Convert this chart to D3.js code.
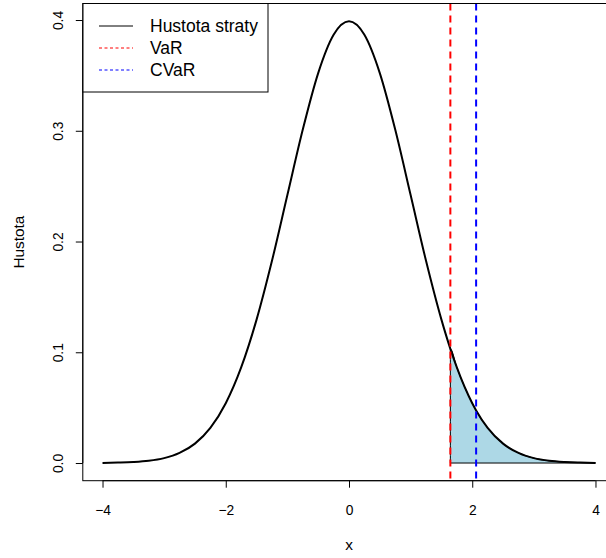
<!DOCTYPE html>
<html><head><meta charset="utf-8">
<script src="https://cdn.jsdelivr.net/npm/d3@7"></script>
<style>body{margin:0;background:#fff}svg{display:block;font-family:"Liberation Sans",Arial,sans-serif}</style>
</head><body>
<script>
// Data
const xs = [-4,-3.75,-3.5,-3.25,-3,-2.75,-2.5,-2.25,-2,-1.75,-1.5,-1.25,-1,-0.75,-0.5,-0.25,0,0.25,0.5,0.75,1,1.25,1.5,1.645,1.75,2,2.063,2.25,2.5,2.75,3,3.25,3.5,3.75,4];
const dens = [0.0001,0.0004,0.0009,0.0020,0.0044,0.0091,0.0175,0.0317,0.0540,0.0863,0.1295,0.1826,0.2420,0.3011,0.3521,0.3867,0.3989,0.3867,0.3521,0.3011,0.2420,0.1826,0.1295,0.1031,0.0863,0.0540,0.0475,0.0317,0.0175,0.0091,0.0044,0.0020,0.0009,0.0004,0.0001];
const VaR = 1.645;
const CVaR = 2.063;
const xTicks = [-4,-2,0,2,4];
const yTicks = [0,0.1,0.2,0.3,0.4];
const legendLabels = ["Hustota straty","VaR","CVaR"];
const legendColors = ["#000","#ff0000","#0000ff"];

const W=606,H=558;
const svg=d3.select("body").append("svg").attr("width",W).attr("height",H);
const L=82.8,R=615.2,T=3.5,B=480.7;
const x=d3.scaleLinear().domain([-4.32,4.32]).range([L,R]);
const ymax=0.3989*1.04, ymin=-0.3989*0.04;
const y=d3.scaleLinear().domain([ymin,ymax-0.0*0]).range([B,T]);
// adjust so 0 -> 463, 0.4 -> 20
y.domain([ymin, ymin + (B-T)/((463-20)/0.4)]);

const pts=xs.map((v,i)=>[v,dens[i]]);
const clip=svg.append("clipPath").attr("id","c").append("rect").attr("x",L).attr("y",T).attr("width",R-L).attr("height",B-T);
const g=svg.append("g").attr("clip-path","url(#c)");

// shaded tail
const tail=[[VaR,0]].concat(pts.filter(p=>p[0]>=VaR)).concat([[4,0]]);
g.append("path").attr("d",d3.line().x(d=>x(d[0])).y(d=>y(d[1])).curve(d3.curveMonotoneX)(tail)+"Z")
 .attr("fill","#ADD8E6").attr("stroke","#000").attr("stroke-width",1);

g.append("path").attr("d",d3.line().x(d=>x(d[0])).y(d=>y(d[1])).curve(d3.curveMonotoneX)(pts))
 .attr("fill","none").attr("stroke","#000").attr("stroke-width",2);

[[VaR,"#ff0000"],[CVaR,"#0000ff"]].forEach(([v,c])=>{
  g.append("line").attr("x1",x(v)).attr("x2",x(v)).attr("y1",T).attr("y2",B)
   .attr("stroke",c).attr("stroke-width",2).attr("stroke-dasharray","7,5");
});

// box
svg.append("rect").attr("x",L).attr("y",T).attr("width",R-L).attr("height",B-T)
 .attr("fill","none").attr("stroke","#000").attr("stroke-width",1);

// x axis
const xa=svg.append("g").attr("transform",`translate(0,${B})`)
 .call(d3.axisBottom(x).tickValues(xTicks).tickSize(7).tickPadding(0).tickFormat(d=>d3.format("")(d).replace("-","\u2212")));
xa.select(".domain").attr("d",`M${x(-4)},0H${x(4)}`).attr("stroke","#000");
xa.selectAll("text").attr("font-size","13.8px").attr("fill","#000").attr("dy",null).attr("y",34.5).attr("font-family","Liberation Sans, Arial");
// y axis
const ya=svg.append("g").attr("transform",`translate(${L},0)`)
 .call(d3.axisLeft(y).tickValues(yTicks).tickSize(7).tickFormat(d3.format(".1f")));
ya.select(".domain").attr("d",`M0,${y(0)}V${y(0.4)}`).attr("stroke","#000");
ya.selectAll(".tick text").attr("font-size","13.8px").attr("fill","#000").attr("x",null).attr("dy",null)
 .attr("text-anchor","middle").attr("transform","translate(-20,0) rotate(-90)").attr("y",0).attr("font-family","Liberation Sans, Arial");

svg.append("text").attr("x",(L+R)/2).attr("y",550).attr("text-anchor","middle").attr("font-size","15.4px").text("x");
svg.append("text").attr("transform",`translate(24,${(T+B)/2}) rotate(-90)`).attr("text-anchor","middle").attr("font-size","15.4px").text("Hustota");

// legend
const lg=svg.append("g");
lg.append("rect").attr("x",83).attr("y",3.5).attr("width",185).attr("height",88.5).attr("fill","#fff").attr("stroke","#000");
legendLabels.forEach((t,i)=>{
  const yy=26+i*22;
  lg.append("line").attr("x1",99).attr("x2",133).attr("y1",yy).attr("y2",yy).attr("stroke",legendColors[i]).attr("stroke-width",1)
    .attr("stroke-dasharray",i?"3,2.5":null);
  lg.append("text").attr("x",150).attr("y",yy+6).attr("font-size","17.5px").text(t);
});
</script>
</body></html>
